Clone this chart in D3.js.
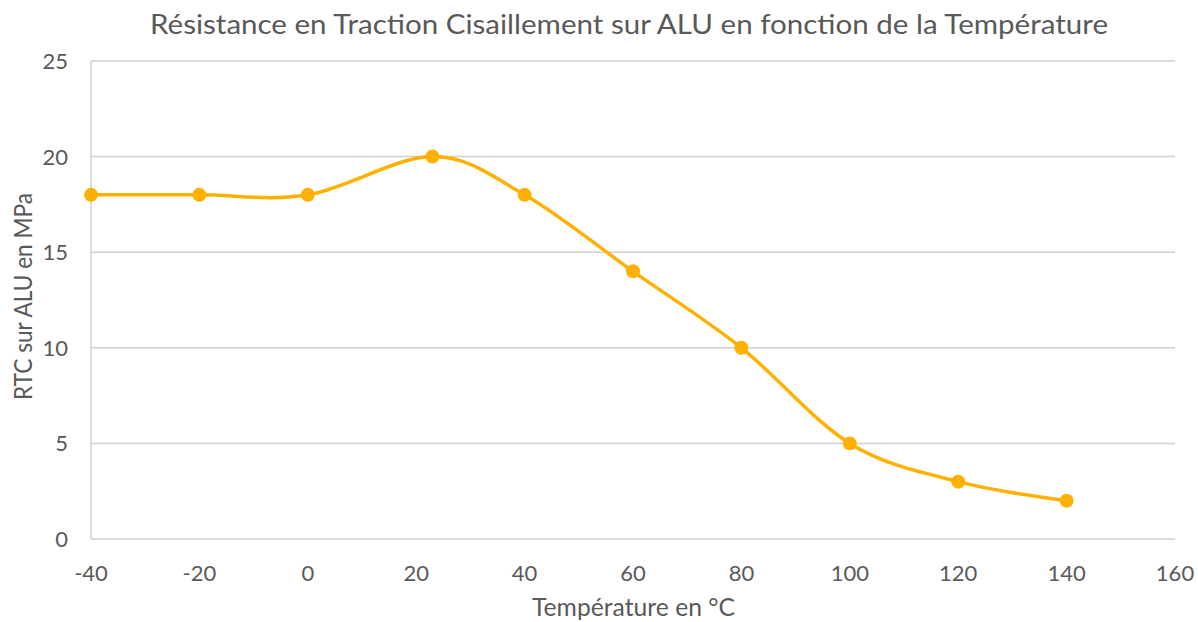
<!DOCTYPE html>
<html>
<head>
<meta charset="utf-8">
<script src="https://cdn.jsdelivr.net/npm/d3@7"></script>
<style>
  body { margin: 0; background: #fff; }
  text { font-family: Lato, "Open Sans", sans-serif; fill: #595959; }
</style>
</head>
<body>
<div id="root"></div>
<script>
const temperatures = [-40, -20, 0, 23, 40, 60, 80, 100, 120, 140];
const rtcValues = [18, 18, 18, 20, 18, 14, 10, 5, 3, 2];
const xTicks = [-40, -20, 0, 20, 40, 60, 80, 100, 120, 140, 160];
const yTicks = [0, 5, 10, 15, 20, 25];

const width = 1198;
const height = 622;
const margin = { top: 61, right: 23, bottom: 83, left: 91 };
const lineColor = "#FFB000";
const gridColor = "#D0D0D0";

const svg = d3.select("#root")
  .append("svg")
  .attr("width", width)
  .attr("height", height);

const x = d3.scaleLinear().domain([-40, 160]).range([margin.left, width - margin.right]);
const y = d3.scaleLinear().domain([0, 25]).range([height - margin.bottom, margin.top]);

// horizontal gridlines
svg.append("g")
  .selectAll("line")
  .data(yTicks)
  .join("line")
  .attr("x1", x(-40))
  .attr("x2", x(160))
  .attr("y1", (d) => y(d))
  .attr("y2", (d) => y(d))
  .attr("stroke", gridColor)
  .attr("stroke-width", 1.5);

// left axis line
svg.append("line")
  .attr("x1", x(-40)).attr("x2", x(-40))
  .attr("y1", y(0)).attr("y2", y(25))
  .attr("stroke", gridColor)
  .attr("stroke-width", 1.5);

// tick labels
svg.append("g")
  .selectAll("text")
  .data(yTicks)
  .join("text")
  .attr("x", x(-40) - 23)
  .attr("y", (d) => y(d) + 8)
  .attr("text-anchor", "end")
  .attr("font-size", 22)
  .text((d) => d);

svg.append("g")
  .selectAll("text")
  .data(xTicks)
  .join("text")
  .attr("x", (d) => x(d))
  .attr("y", y(0) + 42)
  .attr("text-anchor", "middle")
  .attr("font-size", 22)
  .text((d) => d);

// titles (Calibri is not installed, so stretch to its width)
svg.append("text")
  .attr("x", 629)
  .attr("y", 34)
  .attr("text-anchor", "middle")
  .attr("font-size", 26)
  .attr("textLength", 958)
  .attr("lengthAdjust", "spacingAndGlyphs")
  .text("Résistance en Traction Cisaillement sur ALU en fonction de la Température");

svg.append("text")
  .attr("x", 633.5)
  .attr("y", 616)
  .attr("text-anchor", "middle")
  .attr("font-size", 25)
  .attr("textLength", 203)
  .attr("lengthAdjust", "spacingAndGlyphs")
  .text("Température en °C");

svg.append("text")
  .attr("transform", "translate(32, 296.5) rotate(-90)")
  .attr("text-anchor", "middle")
  .attr("font-size", 25)
  .attr("textLength", 207)
  .attr("lengthAdjust", "spacingAndGlyphs")
  .text("RTC sur ALU en MPa");

// smoothed line
const points = temperatures.map((t, i) => [t, rtcValues[i]]);
const line = d3.line()
  .x((d) => x(d[0]))
  .y((d) => y(d[1]))
  .curve(d3.curveCardinal.tension(0));

svg.append("path")
  .datum(points)
  .attr("d", line)
  .attr("fill", "none")
  .attr("stroke", lineColor)
  .attr("stroke-width", 3.5)
  .attr("stroke-linecap", "round");

svg.append("g")
  .selectAll("circle")
  .data(points)
  .join("circle")
  .attr("cx", (d) => x(d[0]))
  .attr("cy", (d) => y(d[1]))
  .attr("r", 7)
  .attr("fill", lineColor);
</script>
</body>
</html>
